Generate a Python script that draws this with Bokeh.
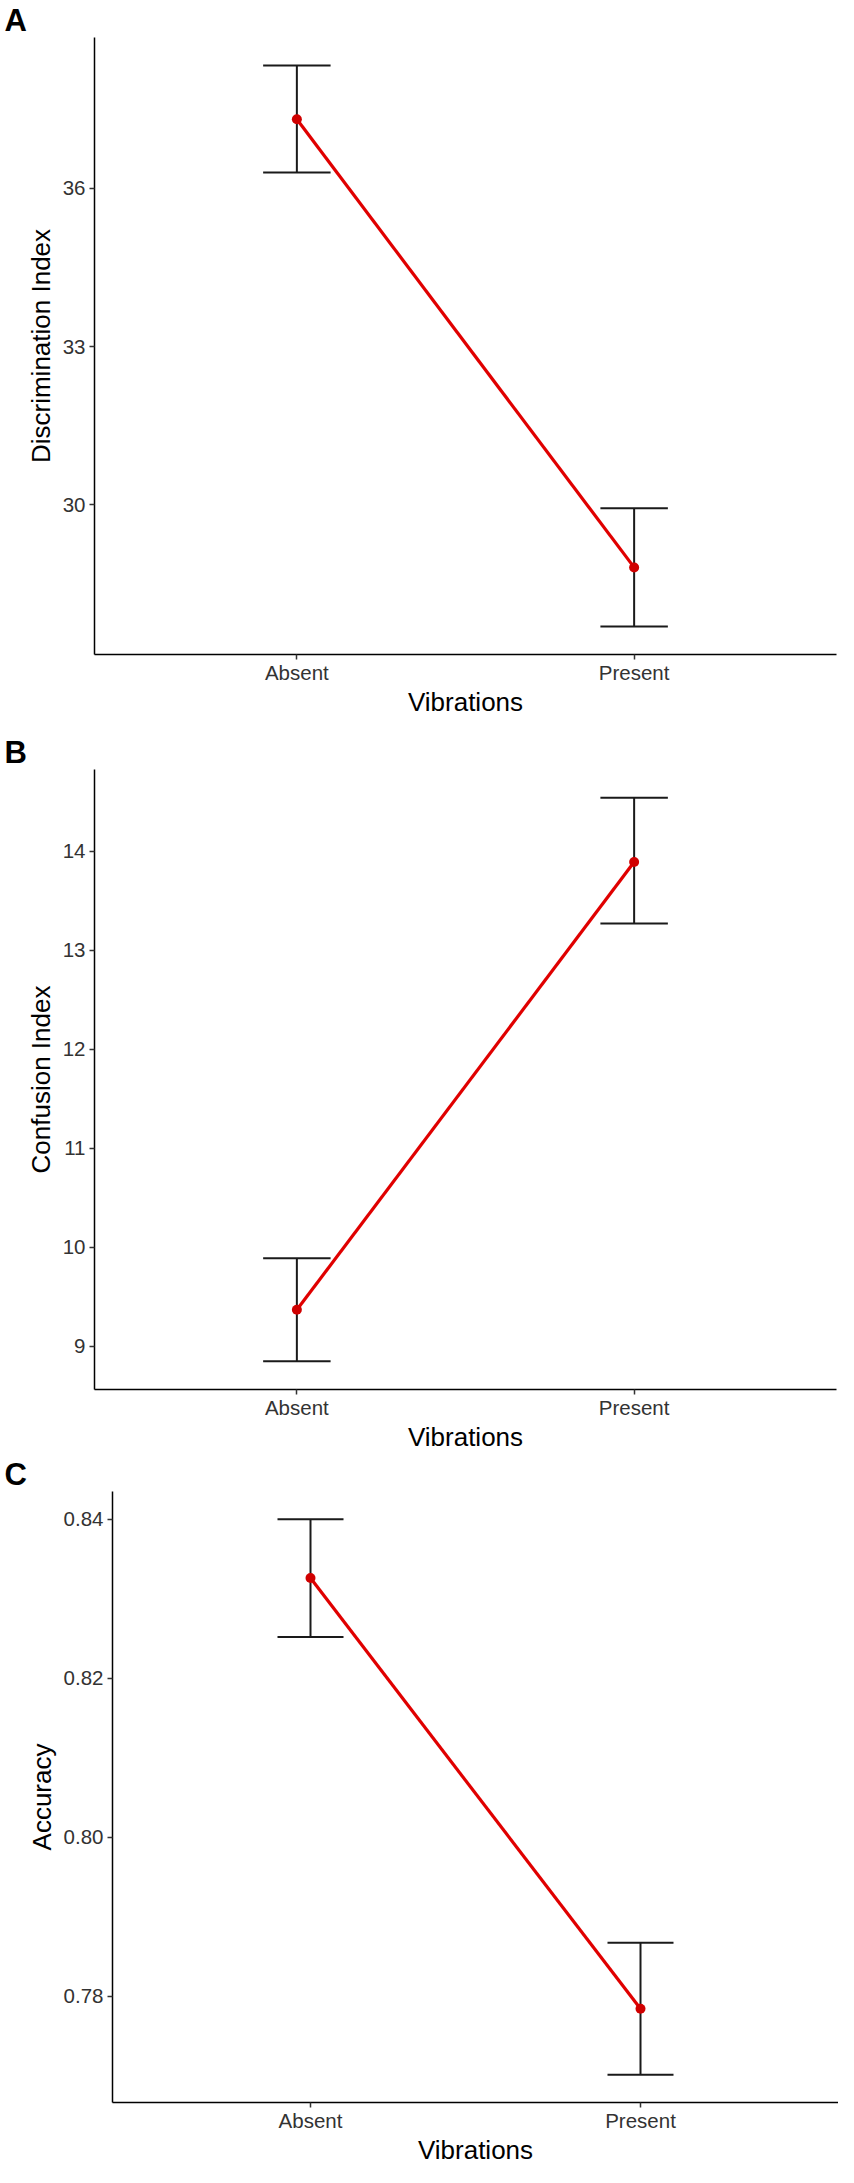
from bokeh.plotting import figure
from bokeh.layouts import column
from bokeh.models import FixedTicker, Range1d
from bokeh.embed import file_html
from bokeh.resources import INLINE

categories = ["Absent", "Present"]
x_title = "Vibrations"

# Panel A
disc_mean = [37.31, 28.81]
disc_lower = [36.30, 27.69]
disc_upper = [38.33, 29.93]
disc_ticks = [30, 33, 36]

# Panel B
conf_mean = [9.37, 13.89]
conf_lower = [8.85, 13.27]
conf_upper = [9.89, 14.54]
conf_ticks = [9, 10, 11, 12, 13, 14]

# Panel C
acc_mean = [0.8326, 0.7784]
acc_lower = [0.8252, 0.7701]
acc_upper = [0.8400, 0.7867]
acc_ticks = [0.78, 0.80, 0.82, 0.84]

FONT = "Liberation Sans"


def make_panel(letter, ytitle, mean, lower, upper, ticks, fmt,
               height, b_top, b_bottom, b_left, b_right, letter_offset):
    xs = [i + 1 for i in range(len(categories))]
    lo = min(lower)
    hi = max(upper)
    pad = (hi - lo) * 0.05
    p = figure(width=838, height=height, output_backend="svg",
               toolbar_location=None,
               x_range=Range1d(0.4, len(categories) + 0.6),
               y_range=Range1d(lo - pad, hi + pad),
               min_border_top=b_top, min_border_bottom=b_bottom,
               min_border_left=b_left, min_border_right=b_right,
               title=letter)
    p.frame_align = False
    p.outline_line_color = None
    p.xgrid.visible = False
    p.ygrid.visible = False
    p.background_fill_color = "white"
    p.border_fill_color = "white"

    p.title.text_font = FONT
    p.title.text_font_style = "bold"
    p.title.text_font_size = "31px"
    p.title.text_color = "black"
    p.title.align = "left"
    p.title.offset = letter_offset
    p.title.standoff = 0

    half = 0.1
    # error bars
    p.segment(x0=xs, y0=lower, x1=xs, y1=upper, line_color="#1a1a1a", line_width=2)
    p.segment(x0=[x - half for x in xs], y0=lower, x1=[x + half for x in xs], y1=lower,
              line_color="#1a1a1a", line_width=2)
    p.segment(x0=[x - half for x in xs], y0=upper, x1=[x + half for x in xs], y1=upper,
              line_color="#1a1a1a", line_width=2)
    # mean line and points
    p.line(xs, mean, line_color="#E00000", line_width=3.2)
    p.scatter(xs, mean, size=10, fill_color="#D00000", line_color=None)

    for ax in (p.xaxis[0], p.yaxis[0]):
        ax.axis_line_color = "black"
        ax.axis_line_width = 1.5
        ax.major_tick_line_color = "#333333"
        ax.major_tick_line_width = 1.5
        ax.major_tick_out = 5
        ax.major_tick_in = 0
        ax.minor_tick_line_color = None
        ax.major_label_text_font = FONT
        ax.major_label_text_font_size = "20.5px"
        ax.major_label_text_color = "#333333"
        ax.axis_label_text_font = FONT
        ax.axis_label_text_font_size = "26px"
        ax.axis_label_text_font_style = "normal"
        ax.axis_label_text_color = "black"

    p.xaxis.ticker = FixedTicker(ticks=xs)
    p.xaxis.major_label_overrides = {x: c for x, c in zip(xs, categories)}
    p.xaxis.axis_label = x_title
    p.xaxis.major_label_standoff = 1
    p.xaxis.axis_label_standoff = 0

    p.yaxis.ticker = FixedTicker(ticks=ticks)
    p.yaxis.major_label_overrides = {t: fmt.format(t) for t in ticks}
    p.yaxis.axis_label = ytitle
    p.yaxis.major_label_standoff = 4
    p.yaxis.axis_label_standoff = 4
    return p


pA = make_panel("A", "Discrimination Index", disc_mean, disc_lower, disc_upper,
                disc_ticks, "{:d}", 719, 34, 58, 94, 2, -90)
pB = make_panel("B", "Confusion Index", conf_mean, conf_lower, conf_upper,
                conf_ticks, "{:d}", 735, 50, 58, 94, 2, -90)
pC = make_panel("C", "Accuracy", acc_mean, acc_lower, acc_upper,
                acc_ticks, "{:.2f}", 713, 34, 58, 112, 0, -108)

layout = column(pA, pB, pC, spacing=0)
open("out.html", "w").write(file_html(layout, INLINE))
